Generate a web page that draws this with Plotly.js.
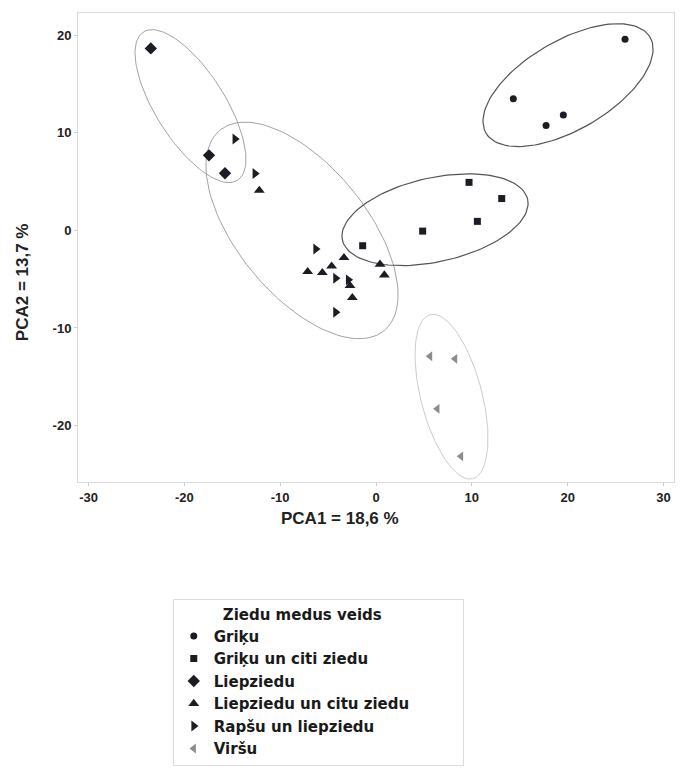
<!DOCTYPE html>
<html>
<head>
<meta charset="utf-8">
<script src="https://cdn.plot.ly/plotly-3.0.1.min.js"></script>
<style>html,body{margin:0;padding:0;background:#fff;}#chart{width:687px;height:778px;}</style>
</head>
<body>
<div id="chart"></div>
<script>
// ---- Data ----
var seriesNames = ["Griķu", "Griķu un citi ziedu", "Liepziedu", "Liepziedu un citu ziedu", "Rapšu un liepziedu", "Viršu"];

var grikuX = [25.99, 14.33, 19.55, 17.75];
var grikuY = [19.6, 13.5, 11.83, 10.77];

var grikuCitiX = [9.71, 13.12, 10.58, 4.87, -1.39];
var grikuCitiY = [4.93, 3.27, 0.93, -0.07, -1.57];

var liepX = [-23.5, -17.43, -15.76];
var liepY = [18.67, 7.7, 5.87];

var liepCituX = [-12.18, -3.34, 0.42, 0.87, -7.13, -5.6, -4.63, -2.71, -2.47];
var liepCituY = [4.1, -2.8, -3.47, -4.57, -4.23, -4.33, -3.67, -5.67, -6.9];

var rapsuX = [-14.72, -12.63, -6.29, -4.21, -2.89, -4.21];
var rapsuY = [9.37, 5.83, -1.9, -4.9, -5.07, -8.4];

var virsuX = [5.64, 8.25, 6.4, 8.87];
var virsuY = [-12.9, -13.17, -18.3, -23.17];

// Group ellipses: centre and two conjugate semi-axis vectors (data units)
var ellCx = [-19.36, -7.72, 6.16, 20.04, 7.88];
var ellCy = [12.75, 0.0, 1.1, 14.9, -17.05];
var ellUx = [4.88, 8.47, 9.66, 8.53, 2.21];
var ellUy = [-7.63, -10.35, 2.12, 4.97, -8.42];
var ellVx = [-3.11, -5.36, 1.00, 2.46, -3.10];
var ellVy = [-1.83, -4.02, -4.20, -3.87, -0.75];

var xTickVals = [-30, -20, -10, 0, 10, 20, 30];
var xTickText = ["-30", "-20", "-10", "0", "10", "20", "30"];
var yTickVals = [-20, -10, 0, 10, 20];
var yTickText = ["-20", "-10", "0", "10", "20"];

var xTitle = "PCA1 = 18,6 %";
var yTitle = "PCA2 = 13,7 %";
var legendTitle = "Ziedu medus veids";

// ---- Styles ----
var dark = "#1c1c24";
var gray = "#8c8c8c";
var ellColors = ["#a3a3a3", "#a3a3a3", "#555555", "#555555", "#cccccc"];
var ellWidths = [1, 1, 1.2, 1.2, 1];

var traces = [];
for (var e = 0; e < ellCx.length; e++) {
  var ex = [], ey = [];
  for (var k = 0; k <= 120; k++) {
    var t = 2 * Math.PI * k / 120;
    ex.push(ellCx[e] + ellUx[e] * Math.cos(t) + ellVx[e] * Math.sin(t));
    ey.push(ellCy[e] + ellUy[e] * Math.cos(t) + ellVy[e] * Math.sin(t));
  }
  traces.push({x: ex, y: ey, mode: "lines", line: {color: ellColors[e], width: ellWidths[e]},
               showlegend: false, hoverinfo: "skip"});
}

var xs = [grikuX, grikuCitiX, liepX, liepCituX, rapsuX, virsuX];
var ys = [grikuY, grikuCitiY, liepY, liepCituY, rapsuY, virsuY];
var symbols = ["circle", "square", "diamond", "triangle-up", "triangle-right", "triangle-left"];
var sizes = [7, 7, 9.5, 9.5, 9.5, 8.5];
var colors = [dark, dark, dark, dark, dark, gray];
for (var s = 0; s < seriesNames.length; s++) {
  traces.push({x: xs[s], y: ys[s], mode: "markers", name: seriesNames[s], type: "scatter",
               marker: {symbol: symbols[s], size: sizes[s], color: colors[s]}});
}

var tickFont = {family: "Liberation Sans, Arial, sans-serif", size: 13, color: "#222", weight: "bold"};
var titleFont = {family: "Liberation Sans, Arial, sans-serif", size: 17, color: "#222", weight: "bold"};
var legFont = {family: "DejaVu Sans, sans-serif", size: 15, color: "#1a1a1a", weight: "bold"};
var pad = "\u00a0\u00a0\u00a0\u00a0\u00a0\u00a0\u00a0\u00a0\u00a0";
var tailPad = "\u00a0\u00a0\u00a0\u00a0\u00a0\u00a0\u00a0\u00a0\u00a0\u00a0\u00a0\u00a0\u00a0\u00a0\u00a0";

var layout = {
  width: 687, height: 778,
  margin: {l: 78, r: 13, t: 13, b: 284},
  paper_bgcolor: "#ffffff", plot_bgcolor: "#ffffff",
  showlegend: true,
  xaxis: {range: [-31.1, 31.1], tickvals: xTickVals, ticktext: xTickText, showgrid: false, zeroline: false,
          showline: true, linecolor: "#dadada", mirror: true, ticks: "outside", ticklen: 3, tickcolor: "#cccccc",
          tickfont: tickFont},
  yaxis: {range: [-25.8, 22.3], tickvals: yTickVals, ticktext: yTickText, showgrid: false, zeroline: false,
          showline: true, linecolor: "#dadada", mirror: true, ticks: "outside", ticklen: 3, tickcolor: "#cccccc",
          tickfont: tickFont},
  annotations: [
    {text: xTitle, xref: "paper", yref: "paper", x: 0.44, y: -0.077, xanchor: "center", yanchor: "middle",
     showarrow: false, font: titleFont},
    {text: yTitle, xref: "paper", yref: "paper", x: -0.094, y: 0.426, xanchor: "center", yanchor: "middle",
     textangle: -90, showarrow: false, font: titleFont}
  ],
  legend: {x: 0.159, y: -0.25, xanchor: "left", yanchor: "top", bgcolor: "#ffffff",
           bordercolor: "#dddddd", borderwidth: 1, font: legFont,
           title: {text: pad + legendTitle + tailPad, font: legFont}, tracegroupgap: 0}
};

Plotly.newPlot("chart", traces, layout, {staticPlot: true, displayModeBar: false});
</script>
</body>
</html>
